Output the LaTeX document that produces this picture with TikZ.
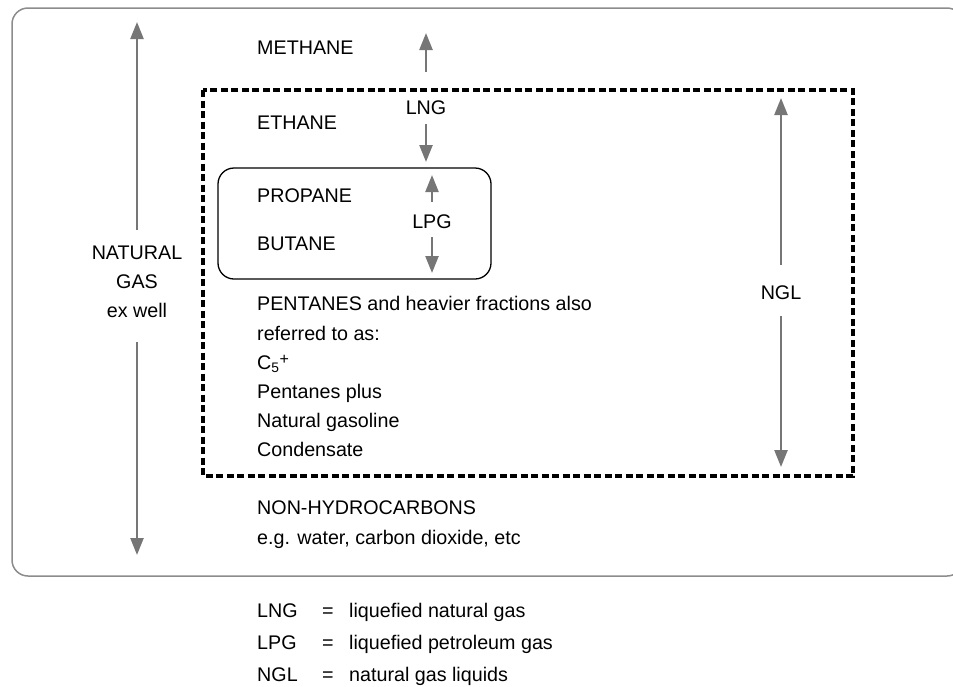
\documentclass[tikz,border=0pt]{standalone}
\usepackage{fontspec}
\setmainfont{Liberation Sans}
\usetikzlibrary{arrows.meta}
\definecolor{arrgrey}{RGB}{118,118,118}
\definecolor{boxgrey}{RGB}{140,140,140}
\tikzset{
  lbl/.style={anchor=base west, inner sep=0pt},
  mid/.style={inner sep=0pt},
  arr/.style={-{Triangle[length=17pt,width=13pt]}, draw=arrgrey, fill=arrgrey, line width=2.4pt},
}
\begin{document}
\begin{tikzpicture}[x=1pt, y=-1pt, font=\fontsize{19.7}{29}\selectfont]
        \useasboundingbox (0,0) rectangle (953,686);
        \draw[boxgrey, line width=1.5pt, rounded corners=16pt] (12,8) rectangle (963,576);
        \draw[line width=3.5pt, dash pattern=on 7pt off 3.5pt] (203,90) rectangle (853,476);
        \draw[line width=1.3pt, rounded corners=16pt] (218,168) rectangle (491,279);

        \node[lbl] (methane) at (257,54) {METHANE};
        \node[lbl] (ethane) at (257,129) {ETHANE};
        \node[lbl] (propane) at (257,202) {PROPANE};
        \node[lbl] (butane) at (257,250) {BUTANE};
        \node[lbl] (pentanes) at (257,310) {PENTANES and heavier fractions also};
        \node[lbl] (referred) at (257,340) {referred to as:};
        \node[lbl] (cfive) at (257,369) {C\textsubscript{5}{\fontsize{16}{16}\selectfont\raisebox{0.55ex}{+}}};
        \node[lbl] (plus) at (257,398) {Pentanes plus};
        \node[lbl] (gasoline) at (257,427) {Natural gasoline};
        \node[lbl] (condensate) at (257,456) {Condensate};
        \node[lbl] (nonhc) at (257,514) {NON-HYDROCARBONS};
        \node[lbl] (water) at (257,544) {e.g. water, carbon dioxide, etc};

        \node[mid, align=center] (natgas) at (137,282) {NATURAL\\GAS\\ex well};
        \coordinate (natgastop) at (137,22);
        \coordinate (natgasbot) at (137,555);
        \draw[arr, shorten <=16pt] (natgas) -- (natgastop);
        \draw[arr, shorten <=24pt] (natgas) -- (natgasbot);

        \node[mid] (lng) at (426,108) {LNG};
        \coordinate (lngtop) at (426,33);
        \coordinate (lngbot) at (426,162);
        \draw[arr, shorten <=29pt] (lng) -- (lngtop);
        \draw[arr, shorten <=9pt] (lng) -- (lngbot);

        \node[mid] (lpg) at (432,222) {LPG};
        \coordinate (lpgtop) at (432,175);
        \coordinate (lpgbot) at (432,273);
        \draw[arr, shorten <=13pt] (lpg) -- (lpgtop);
        \draw[arr, shorten <=8pt] (lpg) -- (lpgbot);

        \node[mid] (ngl) at (781,293) {NGL};
        \coordinate (ngltop) at (781,98);
        \coordinate (nglbot) at (781,467);
        \draw[arr, shorten <=21pt] (ngl) -- (ngltop);
        \draw[arr, shorten <=16pt] (ngl) -- (nglbot);

        % legend
        \node[lbl] (keylng) at (257,617) {LNG};
        \node[lbl] (eqlng) at (322,617) {=};
        \node[lbl] (deflng) at (349,617) {liquefied natural gas};
        \node[lbl] (keylpg) at (257,649) {LPG};
        \node[lbl] (eqlpg) at (322,649) {=};
        \node[lbl] (deflpg) at (349,649) {liquefied petroleum gas};
        \node[lbl] (keyngl) at (257,681) {NGL};
        \node[lbl] (eqngl) at (322,681) {=};
        \node[lbl] (defngl) at (349,681) {natural gas liquids};
    \end{tikzpicture}
\end{document}
